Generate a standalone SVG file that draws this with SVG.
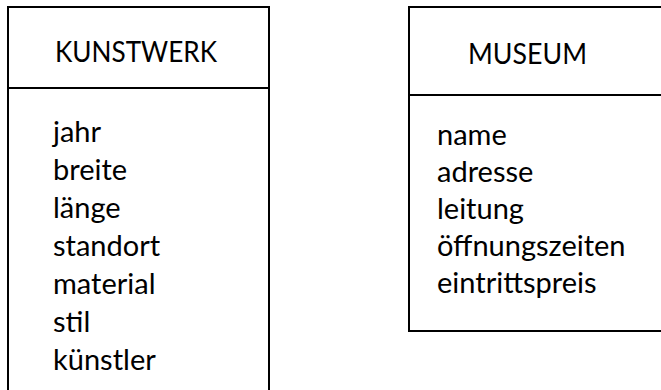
<svg xmlns="http://www.w3.org/2000/svg" width="661" height="390" viewBox="0 0 661 390">
<style>
.box{fill:#ffffff;stroke:#000000;stroke-width:2}
.div{stroke:#000000;stroke-width:2;fill:none}
text{font-family:Lato,"Open Sans","Liberation Sans",sans-serif;font-size:29px;fill:#000000}
.title{font-size:28px}
</style>
<rect x="0" y="0" width="661" height="390" fill="#ffffff"/>
<g id="kunstwerk">
<rect class="box" x="8" y="7" width="261" height="400"/>
<line class="div" x1="8" y1="88" x2="269" y2="88"/>
<text class="title" x="55" y="62" textLength="162" lengthAdjust="spacingAndGlyphs">KUNSTWERK</text>
<text x="53" y="142">jahr</text>
<text x="53" y="180">breite</text>
<text x="53" y="218">länge</text>
<text x="53" y="256">standort</text>
<text x="53" y="294">material</text>
<text x="53" y="332">stil</text>
<text x="53" y="370">künstler</text>
</g>
<g id="museum">
<rect class="box" x="409" y="7" width="270" height="324"/>
<line class="div" x1="409" y1="95" x2="679" y2="95"/>
<text class="title" x="468" y="64" textLength="119" lengthAdjust="spacingAndGlyphs">MUSEUM</text>
<text x="437" y="145">name</text>
<text x="437" y="182">adresse</text>
<text x="437" y="219">leitung</text>
<text x="437" y="256">öffnungszeiten</text>
<text x="437" y="293">eintrittspreis</text>
</g>
<g id="connectors"></g>
</svg>
